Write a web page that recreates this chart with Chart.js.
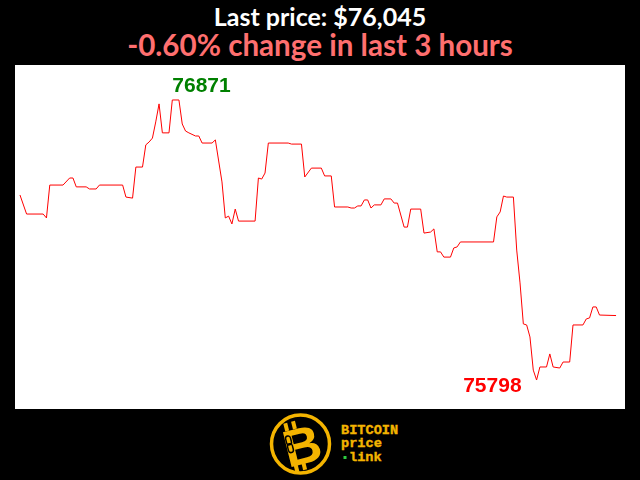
<!DOCTYPE html>
<html>
<head>
<meta charset="utf-8">
<script src="https://cdn.jsdelivr.net/npm/chart.js@4/dist/chart.umd.min.js"></script>
<style>
  html, body { margin: 0; padding: 0; background: #000; }
  body { width: 640px; height: 480px; position: relative; overflow: hidden; }
  .title { position: absolute; left: 0; width: 640px; text-align: center; font-family: Lato, sans-serif; font-weight: 700; white-space: nowrap; }
  #t1 { top: 2px; font-size: 25px; line-height: 28px; color: #fff; }
  #t2 { top: 28px; font-size: 29.6px; line-height: 34px; color: #ff6f6f; }
  #plot { position: absolute; left: 15px; top: 65px; width: 610px; height: 344px; background: #fff; }
  #logo { position: absolute; left: 268px; top: 411px; }
</style>
</head>
<body>
<div class="title" id="t1">Last price: $76,045</div>
<div class="title" id="t2">-0.60% change in last 3 hours</div>
<div id="plot"><canvas id="line" width="610" height="344"></canvas></div>
<svg id="logo" width="135" height="66" viewBox="0 0 135 66">
  <circle cx="32.5" cy="33" r="29" fill="#000" stroke="#f4b400" stroke-width="3.5"/>
  <g transform="rotate(-14 33 34)">
    <rect x="21" y="9" width="4" height="8" fill="#f4b400"/>
    <rect x="29" y="9" width="4" height="8" fill="#f4b400"/>
    <rect x="21" y="51" width="4" height="8" fill="#f4b400"/>
    <rect x="29" y="51" width="4" height="8" fill="#f4b400"/>
    <text x="34" y="53" text-anchor="middle" font-family="Liberation Sans, Arial, sans-serif" font-weight="700" font-size="52" fill="#f4b400">B</text>
    <rect x="19.5" y="22" width="5" height="9" rx="2.5" fill="none" stroke="#000" stroke-width="1.5"/>
    <rect x="19.5" y="30" width="5" height="9" rx="2.5" fill="none" stroke="#000" stroke-width="1.5"/>
  </g>
  <g font-family="Liberation Mono, monospace" font-weight="700" font-size="13.6" fill="#f4b400" stroke="#f4b400" stroke-width="0.4">
    <text x="73" y="23">BITCOIN</text>
    <text x="73" y="36">price</text>
    <text x="81" y="50">link</text>
  </g>
  <rect x="75.5" y="45" width="3" height="3" fill="#2ecc40"/>
</svg>
<script>
// minutes since start of the 3 hour window, and the price at each change
const minutes = [0,2,7,8,9,13,15,16,17,20,
  21,23,24,31,32,34,35,37,38,39,
  40,41,42,43,45,46,48,49,50,51,
  53,54,55,58,59,61,62,63,64,65,
  66,71,72,73,74,75,81,82,85,86,
  88,91,92,94,95,99,100,101,102,103,
  104,105,106,107,109,110,112,113,114,116,
  117,118,121,122,124,125,126,127,128,130,
  131,132,133,143,144,145,146,147,149,150,
  151,152,153,154,155,156,157,159,160,161,
  163,164,166,167,170,171,172,173,174,175,
  180];
const prices = [76507,76434,76434,76419,76545,76545,76572,76572,76538,76538,
  76530,76530,76545,76545,76499,76495,76614,76614,76699,76710,
  76725,76787,76856,76745,76745,76871,76871,76779,76752,76745,
  76733,76733,76706,76706,76718,76557,76419,76426,76396,76453,
  76407,76407,76572,76568,76591,76706,76706,76702,76702,76576,
  76610,76610,76580,76580,76461,76461,76457,76457,76465,76465,
  76488,76488,76457,76469,76469,76492,76492,76476,76476,76384,
  76384,76453,76453,76361,76365,76377,76289,76289,76269,76269,
  76304,76308,76327,76327,76423,76442,76503,76499,76499,76296,
  76170,76013,76009,75963,75836,75798,75848,75848,75898,75848,
  75844,75867,75867,76009,76009,76032,76036,76078,76078,76047,
  76045];

// writes the high and the low next to their points
const extremes = {
  id: 'extremes',
  afterDatasetsDraw(chart) {
    const ctx = chart.ctx;
    const xs = chart.scales.x, ys = chart.scales.y;
    const hi = prices.indexOf(Math.max(...prices));
    const lo = prices.indexOf(Math.min(...prices));
    ctx.save();
    ctx.font = 'bold 21px "Liberation Sans", Arial, sans-serif';
    ctx.textBaseline = 'alphabetic';
    ctx.fillStyle = 'green';
    ctx.textAlign = 'left';
    ctx.fillText(String(prices[hi]), xs.getPixelForValue(minutes[hi]), ys.getPixelForValue(prices[hi]) - 8);
    ctx.fillStyle = 'red';
    ctx.textAlign = 'right';
    ctx.fillText(String(prices[lo]), xs.getPixelForValue(minutes[lo]) - 15, ys.getPixelForValue(prices[lo]) + 12);
    ctx.restore();
  }
};

let ctx = document.getElementById('line').getContext('2d');
window.myLine = new Chart(ctx, {
  type: 'line',
  data: {
    datasets: [{
      data: minutes.map((m, i) => ({ x: m, y: prices[i] })),
      borderColor: 'red',
      borderWidth: 1,
      pointRadius: 0,
      tension: 0,
      fill: false
    }]
  },
  options: {
    responsive: false,
    animation: false,
    layout: { padding: 0 },
    plugins: { legend: { display: false }, tooltip: { enabled: false } },
    scales: {
      x: { type: 'linear', display: false, min: -1.5, max: 182.7 },
      y: { display: false, min: 75687, max: 77005 }
    }
  },
  plugins: [extremes]
});
</script>
</body>
</html>
